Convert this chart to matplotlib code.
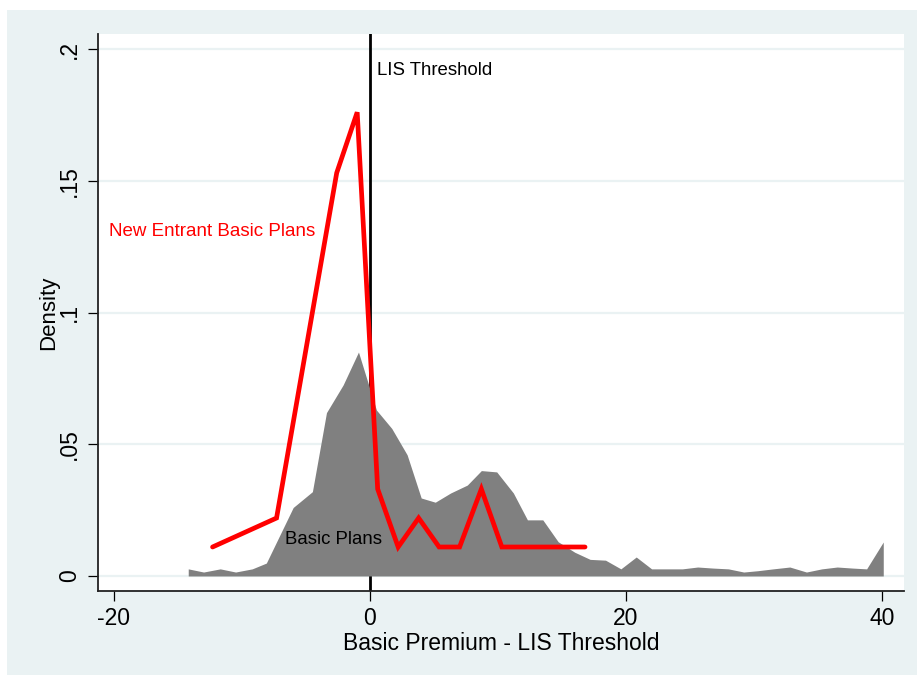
import matplotlib
matplotlib.use("Agg")
import matplotlib.pyplot as plt
from matplotlib.patches import Rectangle

# Density of all basic plans (area)
basic_x = [-14.2, -13.0, -11.7, -10.5, -9.2, -8.1, -6.0, -4.5, -3.4, -2.1, -0.9,
           0.5, 1.7, 2.9, 4.0, 5.1, 6.3, 7.6, 8.7, 9.9, 11.2, 12.3, 13.5, 14.7,
           16.0, 17.2, 18.4, 19.6, 20.8, 22.0, 23.2, 24.4, 25.6, 26.8, 28.0,
           29.2, 30.3, 31.5, 32.8, 34.1, 35.3, 36.5, 37.7, 38.8, 40.1]
basic_density = [0.0027, 0.0015, 0.0027, 0.0015, 0.0027, 0.0049, 0.026, 0.032,
                 0.062, 0.0725, 0.085, 0.063, 0.056, 0.046, 0.0296, 0.028,
                 0.0315, 0.0345, 0.040, 0.0395, 0.0315, 0.0213, 0.0213, 0.013,
                 0.009, 0.0063, 0.006, 0.0027, 0.0072, 0.0027, 0.0027, 0.0027,
                 0.0034, 0.003, 0.0027, 0.0015, 0.002, 0.0027, 0.0034, 0.0015,
                 0.0027, 0.0034, 0.003, 0.0027, 0.0129]

# Density of new entrant basic plans (line)
entrant_x = [-12.3, -7.3, -2.6, -1.0, 0.6, 2.2, 3.8, 5.4, 7.0, 8.7, 10.3, 16.8]
entrant_density = [0.011, 0.022, 0.153, 0.176, 0.033, 0.011, 0.022, 0.011,
                   0.011, 0.033, 0.011, 0.011]

lis_threshold = 0

x_ticks = [-20, 0, 20, 40]
x_tick_labels = ["-20", "0", "20", "40"]
y_ticks = [0, 0.05, 0.1, 0.15, 0.2]
y_tick_labels = ["0", ".05", ".1", ".15", ".2"]

bg = "#eaf2f3"
plt.rcParams["font.family"] = ["Liberation Sans", "DejaVu Sans"]

fig = plt.figure(figsize=(9.17, 6.75), dpi=100, facecolor="white")
fig.patches.append(Rectangle((7 / 917, 0), 1, 1 - 10 / 675,
                             transform=fig.transFigure, facecolor=bg,
                             edgecolor="none", zorder=-10))

ax = fig.add_axes([98 / 917, 1 - 591 / 675, (904 - 98) / 917, (591 - 34) / 675])
ax.set_zorder(1)
ax.set_facecolor("white")

ax.axvline(lis_threshold, color="black", lw=2.0, zorder=2)
ax.fill_between(basic_x, 0, basic_density, color="#808080", lw=0, zorder=3)
ax.plot(entrant_x, entrant_density, color="#ff0000", lw=3.4,
        solid_joinstyle="miter", solid_capstyle="round", zorder=4)

ax.text(0.55, 0.1917, "LIS Threshold", fontsize=13.4, color="black",
        va="center", ha="left", zorder=5)
ax.text(-20.4, 0.1306, "New Entrant Basic Plans", fontsize=13.5, color="#ff0000",
        va="center", ha="left", zorder=5)
ax.text(-6.65, 0.0140, "Basic Plans", fontsize=13.4, color="black",
        va="center", ha="left", zorder=5)

ax.set_xlim(-21.25, 41.72)
ax.set_ylim(-0.0057, 0.2057)

ax.set_xticks(x_ticks)
ax.set_xticklabels(x_tick_labels)
ax.set_yticks(y_ticks)
ax.set_yticklabels(y_tick_labels, rotation=90, va="center")
ax.tick_params(axis="both", direction="out", length=7.2, width=0.9,
               labelsize=16.5, colors="black")
ax.tick_params(axis="x", pad=4)
ax.tick_params(axis="y", pad=5)

ax.grid(axis="y", color=bg, lw=1.6, zorder=0)
ax.set_axisbelow(True)

for side in ("top", "right"):
    ax.spines[side].set_visible(False)
for side in ("left", "bottom"):
    ax.spines[side].set_color("#222222")
    ax.spines[side].set_linewidth(1.3)

ax.set_xlabel("Basic Premium - LIS Threshold", fontsize=16.5, labelpad=2)
ax.set_ylabel("Density", fontsize=16, labelpad=-1)

fig.savefig("out.png", dpi=100, facecolor="white")
